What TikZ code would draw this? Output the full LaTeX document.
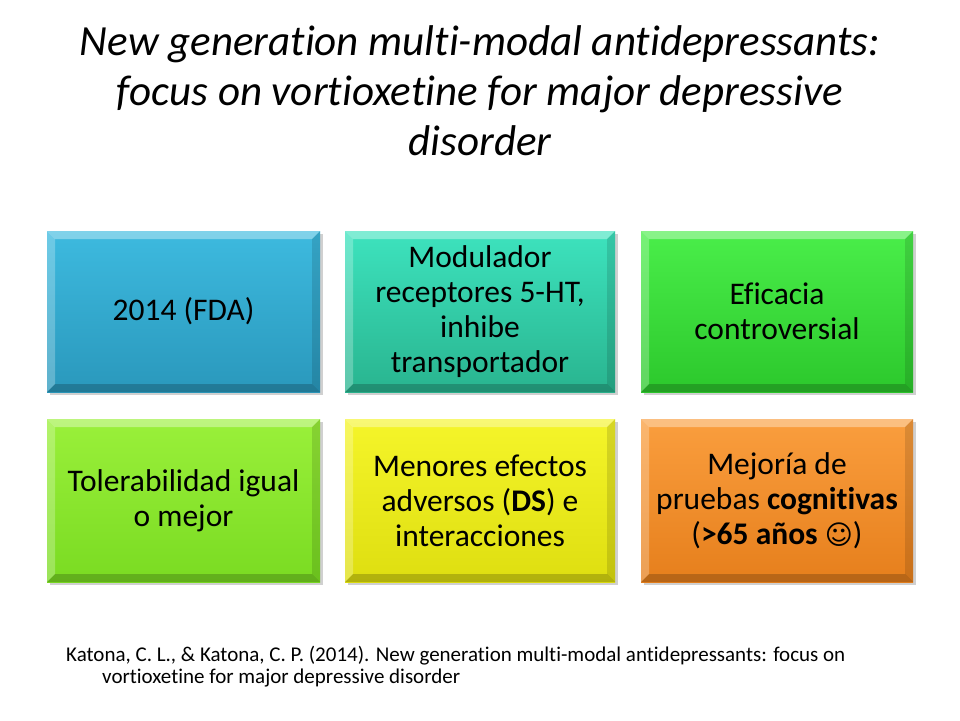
\documentclass[tikz,border=0pt]{standalone}
\usepackage{fontspec}
\setmainfont[Ligatures={NoCommon,NoContextual,NoRequired}]{Carlito}
\newfontfamily\symfont{DejaVu Sans}
\begin{document}
\begin{tikzpicture}[x=1pt,y=-1pt,
  txt/.style={align=center,font=\fontsize{31.5}{35}\selectfont,inner sep=0pt}]
\useasboundingbox (0,0) rectangle (960,720);
\fill[white] (0,0) rectangle (960,720);
\newcommand{\bbox}[7]{% name x1 y1 x2 y2 colortop colorbottom
  \fill[gray!60,opacity=0.6] (#2+3,#3+3) rectangle (#4+3,#5+3);
  \shade[top color=#6,bottom color=#7] (#2,#3) rectangle (#4,#5);
  \fill[white,opacity=0.35] (#2,#3) -- (#4,#3) -- (#4-8,#3+8) -- (#2+8,#3+8) -- cycle;
  \fill[white,opacity=0.25] (#2,#3) -- (#2+8,#3+8) -- (#2+8,#5-8) -- (#2,#5) -- cycle;
  \fill[black,opacity=0.12] (#4,#3) -- (#4,#5) -- (#4-8,#5-8) -- (#4-8,#3+8) -- cycle;
  \fill[black,opacity=0.2] (#2,#5) -- (#4,#5) -- (#4-8,#5-8) -- (#2+8,#5-8) -- cycle;
  \coordinate (#1) at ({(#2+#4)/2},{(#3+#5)/2});
}
\definecolor{b1}{HTML}{3DBADF}\definecolor{b2}{HTML}{2A98BC}
\definecolor{t1}{HTML}{3DE3BE}\definecolor{t2}{HTML}{29B48F}
\definecolor{g1}{HTML}{4AEE4A}\definecolor{g2}{HTML}{2CC82C}
\definecolor{l1}{HTML}{9AF03A}\definecolor{l2}{HTML}{7ADB22}
\definecolor{y1}{HTML}{F5F52A}\definecolor{y2}{HTML}{DEDE10}
\definecolor{o1}{HTML}{FA9E3E}\definecolor{o2}{HTML}{E67F1C}
\bbox{A}{47}{231}{320}{392}{b1}{b2}
\bbox{B}{345}{231}{615}{392}{t1}{t2}
\bbox{C}{641}{231}{913}{392}{g1}{g2}
\bbox{D}{47}{419}{320}{582}{l1}{l2}
\bbox{E}{345}{419}{615}{582}{y1}{y2}
\bbox{F}{641}{419}{913}{582}{o1}{o2}
\node[txt] (a) at (A) {2014 (FDA)};
\node[txt] (b) at (B) {Modulador\\receptores 5-HT,\\inhibe\\transportador};
\node[txt] (c) at (C) {Eficacia\\controversial};
\node[txt] (d) at (D) {Tolerabilidad igual\\o mejor};
\node[txt] (e) at (E) {Menores efectos\\adversos (\textbf{DS}) e\\interacciones};
\node[txt] (f) at (F) {Mejoría de\\pruebas \textbf{cognitivas}\\(\textbf{>65 años} {\symfont\fontsize{27}{30}\selectfont ☺})};
\node[align=center,font=\fontsize{43}{50}\selectfont\itshape,inner sep=0pt] (title) at (480,91)
  {New generation multi-modal antidepressants:\\focus on vortioxetine for major depressive\\disorder};
\node[anchor=north west,align=left,font=\fontsize{21}{23}\selectfont,inner sep=0pt] (cit1) at (66,646)
  {Katona, C. L., \& Katona, C. P. (2014). New generation multi-modal antidepressants: focus on};
\node[anchor=north west,align=left,font=\fontsize{21}{23}\selectfont,inner sep=0pt] (cit2) at (102,669)
  {vortioxetine for major depressive disorder};
\end{tikzpicture}
\end{document}
